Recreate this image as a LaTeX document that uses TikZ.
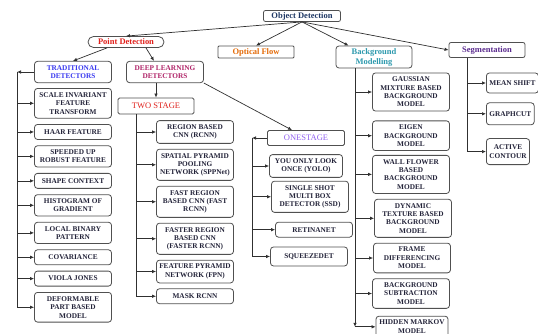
\documentclass[tikz,border=0pt]{standalone}
\usepackage{fontspec}
\setmainfont{Liberation Serif}
\usepackage{xcolor}
\usepackage{tikz}
\usetikzlibrary{arrows.meta,positioning}

\definecolor{navyink}{HTML}{1F3864}
\definecolor{pointred}{HTML}{E0201B}
\definecolor{floworange}{HTML}{E46C0A}
\definecolor{bgteal}{HTML}{2E9AAE}
\definecolor{segpurple}{HTML}{5B2C8F}
\definecolor{tradblue}{HTML}{3A3AF0}
\definecolor{deepmagenta}{HTML}{B02468}
\definecolor{onepurple}{HTML}{9060F0}
\definecolor{leafink}{HTML}{24243A}
\definecolor{boxgray}{HTML}{505050}
\definecolor{linegray}{HTML}{303030}

\tikzset{
  head/.style={draw=boxgray, rounded corners=2pt, line width=0.8pt, fill=white,
               align=center, font=\bfseries\fontsize{8.5}{10}\selectfont,
               minimum width=76pt, inner ysep=1pt},
  leaf/.style={draw=boxgray, rounded corners=3pt, line width=0.8pt, fill=white,
               align=center, font=\bfseries\fontsize{7.3}{8.4}\selectfont,
               text=leafink, minimum width=77pt, minimum height=15pt,
               inner xsep=1pt, inner ysep=4pt},
  segleaf/.style={leaf, minimum width=0pt, inner xsep=3pt}
}

\begin{document}
\begin{tikzpicture}[x=1pt,y=-1pt]
          \useasboundingbox (0,0) rectangle (538,334);
          \clip (0,0) rectangle (538,334);

          \begin{scope}[node distance=5.5pt]
              % top level
              \node[head, text=navyink, minimum width=77pt, minimum height=11pt] (objdet) at (302,16) {Object Detection};
              \node[head, text=pointred, rounded corners=5.5pt, minimum height=11pt] (pointdet) at (126,42) {Point Detection};
              \node[head, text=floworange, rounded corners=1pt, minimum height=12pt] (optflow) at (256,52) {Optical Flow};
              \node[head, text=bgteal, rounded corners=3pt, minimum height=22pt] (bgmodel) at (374,57) {Background\\Modelling};
              \node[head, text=segpurple, minimum height=15pt] (segment) at (487,50) {Segmentation};

              % point detection
              \node[leaf, text=tradblue] (trad) at (73,72) {TRADITIONAL\\DETECTORS};
              \node[leaf, text=deepmagenta] (deep) at (165,72) {DEEP LEARNING\\DETECTORS};

              \node[leaf] (sift)   [below=5pt of trad] {SCALE INVARIANT\\FEATURE\\TRANSFORM};
              \node[leaf] (haar)   [below=of sift ] {HAAR FEATURE};
              \node[leaf] (surf)   [below=of haar ] {SPEEDED UP\\ROBUST FEATURE};
              \node[leaf] (shape)  [below=of surf ] {SHAPE CONTEXT};
              \node[leaf] (hog)    [below=of shape] {HISTOGRAM OF\\GRADIENT};
              \node[leaf] (lbp)    [below=of hog  ] {LOCAL BINARY\\PATTERN};
              \node[leaf] (cov)    [below=of lbp  ] {COVARIANCE};
              \node[leaf] (viola)  [below=of cov  ] {VIOLA JONES};
              \node[leaf] (dpm)    [below=of viola] {DEFORMABLE\\PART BASED\\MODEL};

              % deep learning
              \node[leaf, rounded corners=1.5pt, font=\fontsize{8.5}{10}\selectfont,
                    text=pointred, minimum width=76pt, minimum height=16pt] (twostage) at (156,106) {TWO STAGE};
              \node[leaf] (rcnn)   at (195,132)           {REGION BASED\\CNN (RCNN)};
              \node[leaf] (spp)    [below=5pt of rcnn   ] {SPATIAL PYRAMID\\POOLING\\NETWORK (SPPNet)};
              \node[leaf] (fast)   [below=5pt of spp    ] {FAST REGION\\BASED CNN (FAST\\RCNN)};
              \node[leaf] (faster) [below=5pt of fast   ] {FASTER REGION\\BASED CNN\\(FASTER RCNN)};
              \node[leaf] (fpn)    [below=5pt of faster ] {FEATURE PYRAMID\\NETWORK (FPN)};
              \node[leaf] (mask)   [below=5pt of fpn    ] {MASK RCNN};

              \node[leaf, rounded corners=1.5pt, font=\fontsize{8.5}{10}\selectfont,
                    text=onepurple] (onestage) at (306,138) {ONESTAGE};
              \node[leaf, minimum width=73pt] (yolo) at (306,166) {YOU ONLY LOOK\\ONCE (YOLO)};
              \node[leaf] (ssd)     [below=3pt of yolo, xshift=4pt  ] {SINGLE SHOT\\MULTI BOX\\DETECTOR (SSD)};
              \node[leaf] (retina)  [below=9pt of ssd, xshift=4pt   ] {RETINANET};
              \node[leaf, minimum height=19pt] (squeeze) [below=9pt of retina, xshift=-5pt] {SQUEEZEDET};

              % background modelling
              \node[leaf] (gmm)    at (411,92)                       {GAUSSIAN\\MIXTURE BASED\\BACKGROUND\\MODEL};
              \node[leaf] (eigen)  [below=9pt of gmm                ] {EIGEN\\BACKGROUND\\MODEL};
              \node[leaf] (wall)   [below=4pt of eigen              ] {WALL FLOWER\\BASED\\BACKGROUND\\MODEL};
              \node[leaf] (dyn)    [below=5pt of wall, xshift=2pt   ] {DYNAMIC\\TEXTURE BASED\\BACKGROUND\\MODEL};
              \node[leaf] (frame)  [below=5pt of dyn, xshift=-1pt   ] {FRAME\\DIFFERENCING\\MODEL};
              \node[leaf] (bgsub)  [below=5pt of frame, xshift=-1pt ] {BACKGROUND\\SUBTRACTION\\MODEL};
              \node[leaf, minimum width=72pt] (hmm) [below=7pt of bgsub, xshift=1pt] {HIDDEN MARKOV\\MODEL};

              % segmentation
              \node[segleaf, anchor=west, minimum height=20pt] (meanshift) at (486,83) {MEAN SHIFT};
              \node[segleaf, minimum height=22pt] (graphcut) [below=9pt of meanshift.south west, anchor=north west] {GRAPHCUT};
              \node[segleaf, minimum height=26pt] (active) [below=13pt of graphcut.south west, anchor=north west] {ACTIVE\\CONTOUR};

              % bus points
              \coordinate (tdbus) at (17,72);
              \coordinate (tsbus) at ([xshift=-20pt]twostage.south);
              \coordinate (osbus) at (252,138);
              \coordinate (bgbus) at ([xshift=-19pt]bgmodel.south);
              \coordinate (sgbus) at ([xshift=-20pt]segment.south);
          \end{scope}

          \begin{scope}[>={Latex[length=4pt,width=3.5pt]},
                        every edge/.style={draw=linegray,line width=0.7pt}]
              \path [->] (objdet.south) edge (pointdet.north);
              \path [->] (objdet.south) edge (optflow.north);
              \path [->] (objdet.south) edge ([xshift=13pt]bgmodel.north west);
              \path [->] (objdet.south) edge (segment.west);

              \path [->] ([xshift=-19pt]pointdet.south) edge (trad.north);
              \path [->] ([xshift=20pt]pointdet.south) edge ([xshift=-11pt]deep.north);
              \path [->] (deep.south east) edge ([xshift=-14pt]onestage.north);
              \path [->] (twostage.north |- deep.south) edge (twostage.north);

              \path [->] (trad) edge (tdbus);
              \path (tdbus) edge (tdbus |- dpm);
              \foreach \leaf in {sift,haar,surf,shape,hog,lbp,cov,viola,dpm}
                  \path [->] (tdbus |- \leaf) edge (\leaf);

              \path (tsbus) edge (tsbus |- mask);
              \foreach \leaf in {rcnn,spp,fast,faster,fpn,mask}
                  \path [->] (tsbus |- \leaf) edge (\leaf);

              \path [->] (onestage) edge (osbus);
              \path (osbus) edge (osbus |- squeeze);
              \foreach \leaf in {yolo,ssd,retina,squeeze}
                  \path [->] (osbus |- \leaf) edge (\leaf);

              \path [->] (bgbus) edge (bgbus |- hmm);
              \foreach \leaf in {gmm,eigen,wall,dyn,frame,bgsub,hmm}
                  \path [->] (bgbus |- \leaf) edge (\leaf);

              \path (sgbus) edge (sgbus |- active);
              \foreach \leaf in {meanshift,graphcut,active}
                  \path [->] (sgbus |- \leaf) edge (\leaf);
          \end{scope}

\end{tikzpicture}
\end{document}
